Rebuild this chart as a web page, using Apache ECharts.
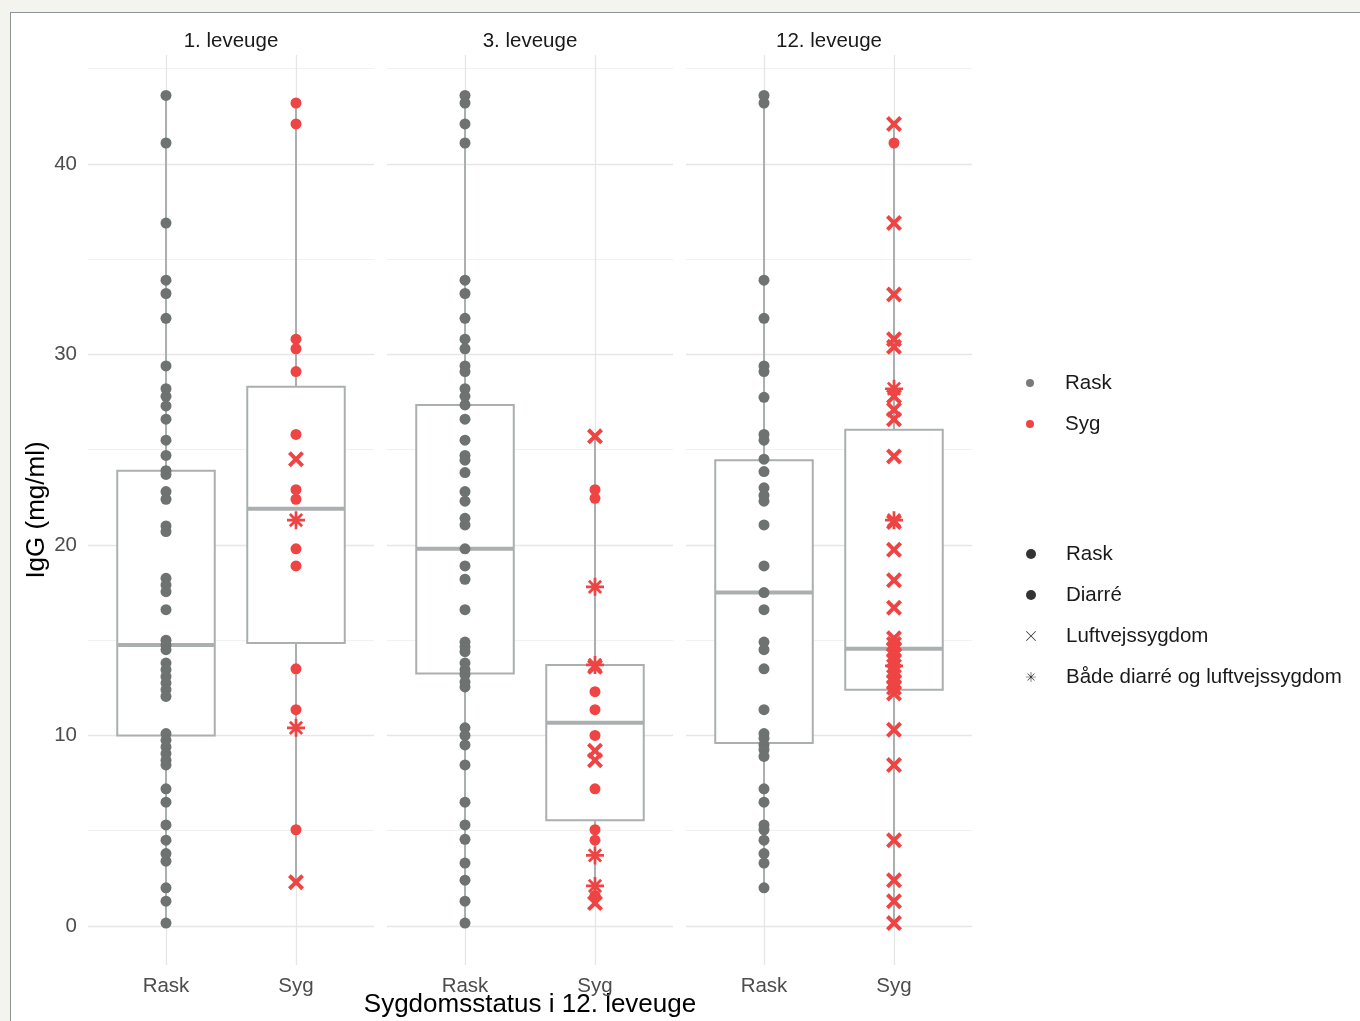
<!DOCTYPE html>
<html>
<head>
<meta charset="utf-8">
<script src="https://cdn.jsdelivr.net/npm/echarts@6/dist/echarts.min.js"></script>
<style>
  html, body { margin: 0; padding: 0; background: #f4f4ef; }
  #frame { position: absolute; left: 10px; top: 12px; right: 0; bottom: 0; background: #ffffff;
           border-left: 1px solid #8c9494; border-top: 1px solid #8c9494; }
  #chart { position: absolute; left: 0; top: 0; width: 1360px; height: 1021px; }
</style>
</head>
<body>
<div id="frame"></div>
<div id="chart"></div>
<script>
// ---------- data ----------
const categories = ['Rask', 'Syg'];
const panelTitles = ['1. leveuge', '3. leveuge', '12. leveuge'];
const yTickLabels = [0, 10, 20, 30, 40];
const gridMajor = [0, 10, 20, 30, 40];
const gridMinor = [5, 15, 25, 35, 45];
const shapeNames = ['Rask', 'Diarré', 'Luftvejssygdom', 'Både diarré og luftvejssygdom'];

// 1. leveuge
const w1_rask = [43.6, 41.1, 36.9, 33.9, 33.2, 31.9, 29.4, 28.2, 27.8, 27.3, 26.6, 25.5, 24.7, 23.9, 23.7, 22.8, 22.4, 21.0, 20.7, 18.25, 17.9, 17.55, 16.6, 15.0, 14.75, 14.5, 13.8, 13.45, 13.1, 12.75, 12.4, 12.05, 10.1, 9.75, 9.4, 9.05, 8.7, 8.45, 7.2, 6.5, 5.3, 4.5, 3.8, 3.4, 2.0, 1.3, 0.15];
const w1_syg_diarre = [43.2, 42.1, 30.8, 30.3, 29.1, 25.8, 22.9, 22.4, 19.8, 18.9, 13.5, 11.35, 5.05];
const w1_syg_luft = [24.5, 2.3];
const w1_syg_begge = [21.3, 10.4];
// box stats: [low whisker, Q1, median, Q3, high whisker] for Rask, Syg
const w1_box_rask = [0.15, 10.0, 14.75, 23.9, 43.6];
const w1_box_syg = [2.3, 14.85, 21.9, 28.3, 43.2];

// 3. leveuge
const w3_rask = [43.6, 43.2, 42.1, 41.1, 33.9, 33.2, 31.9, 30.8, 30.3, 29.4, 29.1, 28.2, 27.8, 27.35, 26.6, 25.5, 24.7, 24.45, 23.8, 22.8, 22.3, 21.4, 21.05, 19.8, 18.9, 18.2, 16.6, 14.9, 14.65, 14.4, 13.8, 13.45, 13.2, 12.8, 12.55, 10.4, 10.0, 9.5, 8.45, 6.5, 5.3, 4.55, 3.3, 2.4, 1.3, 0.15];
const w3_syg_diarre = [22.9, 22.45, 12.3, 11.35, 10.0, 7.2, 5.05, 4.5, 1.6];
const w3_syg_luft = [25.7, 13.6, 9.2, 8.7, 1.2];
const w3_syg_begge = [17.8, 13.7, 3.7, 2.1];
const w3_box_rask = [0.15, 13.25, 19.8, 27.35, 43.6];
const w3_box_syg = [1.2, 5.55, 10.67, 13.7, 25.7];

// 12. leveuge
const w12_rask = [43.6, 43.2, 33.9, 31.9, 29.4, 29.1, 27.75, 25.8, 25.5, 24.5, 23.85, 23.0, 22.6, 22.3, 21.05, 18.9, 17.5, 16.6, 14.9, 14.5, 13.5, 11.35, 10.1, 9.85, 9.5, 9.25, 8.9, 7.2, 6.5, 5.3, 5.05, 4.5, 3.8, 3.3, 2.0];
const w12_syg_diarre = [41.1];
const w12_syg_luft = [42.1, 36.9, 33.15, 30.8, 30.4, 27.8, 27.1, 26.6, 24.65, 21.2, 19.75, 18.15, 16.7, 15.1, 14.8, 14.5, 14.2, 13.9, 13.4, 13.1, 12.8, 12.5, 12.2, 10.3, 8.45, 4.5, 2.4, 1.3, 0.15];
const w12_syg_begge = [28.2, 21.3, 13.65];
const w12_box_rask = [2.0, 9.6, 17.5, 24.45, 43.6];
const w12_box_syg = [0.15, 12.4, 14.55, 26.05, 42.1];

// ---------- assembly ----------
const panels = [
  { rask: w1_rask, diarre: w1_syg_diarre, luft: w1_syg_luft, begge: w1_syg_begge, box: [w1_box_rask, w1_box_syg] },
  { rask: w3_rask, diarre: w3_syg_diarre, luft: w3_syg_luft, begge: w3_syg_begge, box: [w3_box_rask, w3_box_syg] },
  { rask: w12_rask, diarre: w12_syg_diarre, luft: w12_syg_luft, begge: w12_syg_begge, box: [w12_box_rask, w12_box_syg] }
];

const GRAY = '#6e7271';
const RED = '#ef4444';
const BOXC = '#abafaf';
const FONT = '"Liberation Sans", Arial, sans-serif';
const X_PATH = 'path://M3.5,0 L10,6.5 L16.5,0 L20,3.5 L13.5,10 L20,16.5 L16.5,20 L10,13.5 L3.5,20 L0,16.5 L6.5,10 L0,3.5 Z';
const STAR_PATH = 'path://M8.5,0 L11.5,0 L11.5,8.5 L20,8.5 L20,11.5 L11.5,11.5 L11.5,20 L8.5,20 L8.5,11.5 L0,11.5 L0,8.5 L8.5,8.5 Z M4.3,2.1 L10,7.8 L15.7,2.1 L17.9,4.3 L12.2,10 L17.9,15.7 L15.7,17.9 L10,12.2 L4.3,17.9 L2.1,15.7 L7.8,10 L2.1,4.3 Z';
const X_THIN = 'path://M1.2,0 L10,8.8 L18.8,0 L20,1.2 L11.2,10 L20,18.8 L18.8,20 L10,11.2 L1.2,20 L0,18.8 L8.8,10 L0,1.2 Z';
const STAR_THIN = 'path://M9.4,0 L10.6,0 L10.6,9.4 L20,9.4 L20,10.6 L10.6,10.6 L10.6,20 L9.4,20 L9.4,10.6 L0,10.6 L0,9.4 L9.4,9.4 Z M3.4,2.6 L10,9.2 L16.6,2.6 L17.4,3.4 L10.8,10 L17.4,16.6 L16.6,17.4 L10,10.8 L3.4,17.4 L2.6,16.6 L9.2,10 L2.6,3.4 Z';

const lefts = [88, 387, 686];
const grids = lefts.map(l => ({ left: l, top: 55, width: 286, height: 910, outerBoundsMode: 'none', containLabel: false }));

const xAxes = lefts.map((l, i) => ({
  type: 'value', gridIndex: i, min: 0.4, max: 2.6,
  axisLine: { show: false }, axisTick: { show: false }, splitLine: { show: false },
  axisLabel: {
    customValues: [1, 2],
    formatter: v => categories[Math.round(v) - 1] || '',
    color: '#4d4d4d', fontSize: 20.5, fontFamily: FONT, margin: 11
  },
  name: i === 1 ? 'Sygdomsstatus i 12. leveuge' : '',
  nameLocation: 'middle', nameGap: 27, nameMoveOverlap: false,
  nameTextStyle: { color: '#000', fontSize: 26, fontFamily: FONT }
}));

const yAxes = lefts.map((l, i) => ({
  type: 'value', gridIndex: i, min: -2.05, max: 45.72,
  axisLine: { show: false }, axisTick: { show: false }, splitLine: { show: false },
  axisLabel: {
    show: i === 0, customValues: yTickLabels,
    color: '#4d4d4d', fontSize: 20.5, fontFamily: FONT, margin: 11
  },
  name: i === 0 ? 'IgG (mg/ml)' : '',
  nameLocation: 'middle', nameRotate: 90, nameGap: 38,
  nameTextStyle: { color: '#000', fontSize: 26, fontFamily: FONT }
}));

const series = [];
panels.forEach((p, i) => {
  // grid lines
  const hl = gridMajor.map(v => ({ yAxis: v, lineStyle: { color: '#e6e6e6', width: 1.3, type: 'solid' } }))
    .concat(gridMinor.map(v => ({ yAxis: v, lineStyle: { color: '#f1f1f1', width: 1, type: 'solid' } })));
  const vl = [1, 2].map(v => ({ xAxis: v, lineStyle: { color: '#e6e6e6', width: 1.3, type: 'solid' } }));
  series.push({
    type: 'scatter', xAxisIndex: i, yAxisIndex: i, data: [], silent: true, z: 0,
    markLine: { silent: true, z: 0, symbol: ['none', 'none'], label: { show: false }, animation: false, data: hl.concat(vl) }
  });
  // boxes
  series.push({
    type: 'custom', xAxisIndex: i, yAxisIndex: i, z: 1, silent: true,
    data: p.box.map((b, k) => [k + 1].concat(b)),
    renderItem: (params, api) => {
      const x = api.value(0);
      const lo = api.coord([x, api.value(1)]);
      const q1 = api.coord([x, api.value(2)]);
      const md = api.coord([x, api.value(3)]);
      const q3 = api.coord([x, api.value(4)]);
      const hi = api.coord([x, api.value(5)]);
      const w = api.size([0.75, 0])[0];
      const style = { stroke: BOXC, lineWidth: 2, fill: null };
      return {
        type: 'group', children: [
          { type: 'line', shape: { x1: lo[0], y1: lo[1], x2: q1[0], y2: q1[1] }, style: style },
          { type: 'line', shape: { x1: q3[0], y1: q3[1], x2: hi[0], y2: hi[1] }, style: style },
          { type: 'rect', shape: { x: q3[0] - w / 2, y: q3[1], width: w, height: q1[1] - q3[1] },
            style: { stroke: BOXC, lineWidth: 2, fill: '#ffffff' } },
          { type: 'line', shape: { x1: md[0] - w / 2, y1: md[1], x2: md[0] + w / 2, y2: md[1] },
            style: { stroke: BOXC, lineWidth: 4 } }
        ]
      };
    }
  });
  const pt = (arr, cat) => arr.map(v => [cat, v]);
  series.push({ type: 'scatter', name: 'Rask', xAxisIndex: i, yAxisIndex: i, z: 3,
    symbol: 'circle', symbolSize: 11, itemStyle: { color: GRAY, opacity: 1 }, data: pt(p.rask, 1) });
  series.push({ type: 'scatter', name: 'Syg', xAxisIndex: i, yAxisIndex: i, z: 3,
    symbol: 'circle', symbolSize: 11, itemStyle: { color: RED, opacity: 1 }, data: pt(p.diarre, 2) });
  series.push({ type: 'scatter', name: 'Syg', xAxisIndex: i, yAxisIndex: i, z: 3,
    symbol: X_PATH, symbolSize: 16, itemStyle: { color: RED, opacity: 1 }, data: pt(p.luft, 2) });
  series.push({ type: 'scatter', name: 'Syg', xAxisIndex: i, yAxisIndex: i, z: 3,
    symbol: STAR_PATH, symbolSize: 18, itemStyle: { color: RED, opacity: 1 }, data: pt(p.begge, 2) });
});
// shape legend dummy series
const shapeIcons = ['circle', 'circle', X_THIN, STAR_THIN];
shapeNames.forEach((n, k) => {
  series.push({ type: 'scatter', name: 'shape|' + n, xAxisIndex: 0, yAxisIndex: 0, data: [],
    symbol: shapeIcons[k], itemStyle: { color: '#000' } });
});

const legendText = { fontSize: 20.5, fontFamily: FONT, color: '#1a1a1a', lineHeight: 22 };

const option = {
  animation: false,
  backgroundColor: 'transparent',
  title: panelTitles.map((t, i) => ({
    text: t, left: lefts[i] + 143, top: 31, textAlign: 'center', padding: 0,
    textStyle: { fontSize: 20.5, fontWeight: 'normal', color: '#1a1a1a', fontFamily: FONT }
  })),
  grid: grids,
  xAxis: xAxes,
  yAxis: yAxes,
  legend: [
    {
      orient: 'vertical', left: 1021, top: 367, itemWidth: 60, itemHeight: 8, itemGap: 19,
      selectedMode: false, textStyle: legendText,
      data: [
        { name: 'Rask', icon: 'circle', itemStyle: { color: '#777b7a' } },
        { name: 'Syg', icon: 'circle', itemStyle: { color: RED } }
      ]
    },
    {
      orient: 'vertical', left: 1021, top: 538, itemWidth: 60, itemHeight: 10, itemGap: 19,
      selectedMode: false, textStyle: legendText,
      formatter: n => n.replace('shape|', ''),
      data: shapeNames.map((n, k) => ({ name: 'shape|' + n, icon: shapeIcons[k], itemStyle: { color: '#000' } }))
    }
  ],
  series: series
};

const chart = echarts.init(document.getElementById('chart'), null, { renderer: 'canvas' });
chart.setOption(option);
</script>
</body>
</html>
